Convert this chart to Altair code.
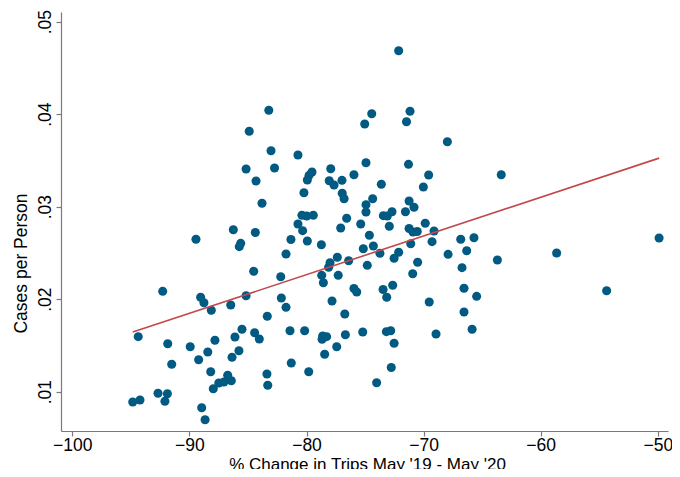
import altair as alt
import pandas as pd

# % change in trips May '19 - May '20 (x) and cases per person (y)
trips_change = [
    -89.44, -86.25, -84.37, -85.62, -85.74, -84.51, -92.28, -89.04, -88.76, -88.13,
    -86.47, -85.16, -83.35, -94.37, -91.85, -89.93, -87.82, -86.11, -85.51, -84.43,
    -84.03, -88.43, -89.21, -85.77, -86.36, -91.51, -88.18, -83.38, -83.31, -86.73,
    -87.49, -87.05, -86.42, -87.96, -92.68, -91.88, -92.09, -94.84, -94.22, -88.95,
    -88.66, -83.22, -84.89, -83.03, -80.73, -85.16, -82.73, -84.31, -83.80,
    -77.93, -74.92, -71.29, -79.53, -79.78, -79.93, -78.06, -77.65, -76.97, -75.95,
    -80.22, -76.95, -76.79, -73.61, -74.35, -74.92, -74.92, -71.24, -70.82, -71.55,
    -70.02, -73.44, -73.10, -72.70, -72.93, -80.39, -79.98, -79.42, -80.73, -80.33,
    -79.93, -76.57, -77.08, -75.37, -74.63, -71.24, -70.91, -70.54, -71.10, -81.33,
    -78.73, -81.75, -75.15, -74.29, -73.73, -77.37, -77.99, -78.11, -76.40, -72.52,
    -72.13, -74.81, -70.51, -70.93, -78.70, -78.56, -77.29, -82.20, -75.95, -73.46,
    -72.64, -75.71, -73.15, -82.15, -81.75, -77.82, -76.73, -81.41, -80.16, -78.62,
    -78.28, -78.67, -76.68, -77.42, -78.45, -75.20, -73.18, -72.81, -72.52, -81.30,
    -79.81, -72.76, -74.01, -72.13, -74.43, -75.03, -71.16, -71.46, -67.97, -69.57,
    -63.37, -69.86, -69.11, -69.28, -66.83, -65.70, -66.32, -67.91, -66.72, -63.70,
    -66.55, -65.47, -69.52, -66.55, -65.86, -68.94, -58.64, -54.37, -49.89,
]
cases_per_person = [
    0.02648, 0.02751, 0.02721, 0.02604, 0.02568, 0.02302, 0.02085, 0.02021, 0.01962, 0.01880,
    0.01937, 0.02038, 0.01815, 0.01595, 0.01519, 0.01486, 0.01556, 0.01591, 0.01675, 0.01638,
    0.01570, 0.01429, 0.01346, 0.01443, 0.01372, 0.01296, 0.01216, 0.01191, 0.01069, 0.01177,
    0.01094, 0.01105, 0.01119, 0.01032, 0.00983, 0.00978, 0.00896, 0.00889, 0.00910, 0.00827,
    0.00697, 0.04042, 0.03815, 0.03605, 0.03559, 0.03408, 0.03418, 0.03278, 0.03037,
    0.03411, 0.03476, 0.03458, 0.03375, 0.03339, 0.03289, 0.03281, 0.03235, 0.03285, 0.03346,
    0.03151, 0.03145, 0.03086, 0.03242, 0.03086, 0.03022, 0.02943, 0.03062, 0.02994, 0.02946,
    0.03213, 0.02903, 0.02899, 0.02946, 0.02788, 0.02907, 0.02899, 0.02907, 0.02813, 0.02741,
    0.02629, 0.02875, 0.02770, 0.02813, 0.02691, 0.02764, 0.02726, 0.02732, 0.02600, 0.02645,
    0.02589, 0.02489, 0.02546, 0.02575, 0.02496, 0.02453, 0.02395, 0.02345, 0.02416, 0.02442,
    0.02507, 0.02366, 0.02399, 0.02275, 0.02258, 0.02178, 0.02258, 0.02243, 0.02116, 0.02104,
    0.02150, 0.02078, 0.02021, 0.02013, 0.01912, 0.01981, 0.01840, 0.01659, 0.01659, 0.01602,
    0.01595, 0.01566, 0.01616, 0.01486, 0.01404, 0.01645, 0.01649, 0.01659, 0.01523, 0.01310,
    0.01216, 0.01262, 0.01097, 0.04686, 0.04005, 0.03894, 0.04032, 0.03918, 0.03703, 0.03343,
    0.03346, 0.02821, 0.02737, 0.02622, 0.02648, 0.02665, 0.02524, 0.02485, 0.02341, 0.02424,
    0.02118, 0.02031, 0.01970, 0.01862, 0.01675, 0.01624, 0.02499, 0.02092, 0.02662,
]

x_ticks = [-100, -90, -80, -70, -60, -50]
y_ticks = [0.01, 0.02, 0.03, 0.04, 0.05]

df = pd.DataFrame({"trips": trips_change, "cases": cases_per_person})

FONT = "Liberation Sans"
FS = 17.5
AXIS_GREY = "#7a7a7a"

xscale = alt.Scale(domain=[-100.965, -49.13], nice=False, zero=False)
yscale = alt.Scale(domain=[0.00575, 0.05105], nice=False, zero=False)

x_axis = alt.Axis(
    values=x_ticks, title="% Change in Trips May '19 - May '20", grid=False,
    domainColor=AXIS_GREY, tickColor=AXIS_GREY, tickSize=5, domainWidth=1.2, tickWidth=1.2,
    labelFont=FONT, labelFontSize=FS, labelColor="black", labelBaseline="alphabetic",
    labelPadding=14, labelFlush=False, labelOverlap=False,
    titleFont=FONT, titleFontSize=17, titleFontWeight="normal", titleColor="black",
    titleBaseline="alphabetic", titleY=38, titleX=306, titleAlign="center",
)
y_axis = alt.Axis(
    values=y_ticks, title="Cases per Person", grid=False,
    labelExpr="substring(format(datum.value, '.2f'), 1)",
    domainColor=AXIS_GREY, tickColor=AXIS_GREY, tickSize=5, domainWidth=1.2, tickWidth=1.2,
    labelFont=FONT, labelFontSize=FS, labelColor="black", labelAngle=270,
    labelAlign="center", labelBaseline="alphabetic", labelPadding=6, labelFlush=False,
    labelOverlap=False,
    titleFont=FONT, titleFontSize=FS, titleFontWeight="normal", titleColor="black",
    titleAngle=270, titleAlign="center", titleBaseline="alphabetic", titleX=-35, titleY=251,
)

points = alt.Chart(df).mark_circle(size=82, color="#005a82", opacity=1).encode(
    x=alt.X("trips:Q", scale=xscale, axis=x_axis),
    y=alt.Y("cases:Q", scale=yscale, axis=y_axis),
)

fit = alt.Chart(df).transform_regression("trips", "cases").mark_line(
    color="#c2494b", strokeWidth=1.6
).encode(
    x=alt.X("trips:Q", scale=xscale),
    y=alt.Y("cases:Q", scale=yscale),
)

chart = (points + fit).properties(
    width=607, height=419,
    autosize=alt.AutoSizeParams(type="none"),
    padding={"left": 53, "top": 4, "right": 4, "bottom": 38},
    background="white",
).configure_view(stroke=None)

chart.save("out.html", embed_options={"renderer": "svg", "actions": False})
